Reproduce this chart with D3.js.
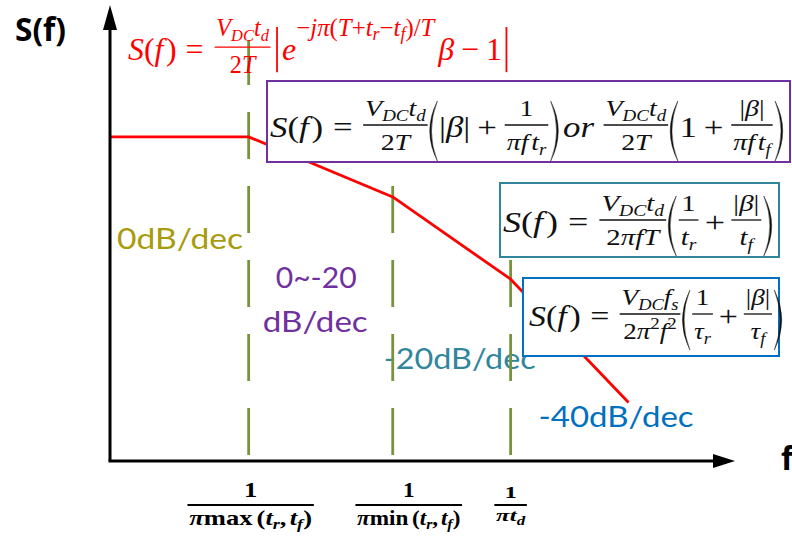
<!DOCTYPE html>
<html>
<head>
<meta charset="utf-8">
<script src="https://cdn.jsdelivr.net/npm/d3@7"></script>
<style>
  body { margin: 0; background: #fff; }
  svg { display: block; }
</style>
</head>
<body>
<svg id="chart" width="792" height="538"></svg>
<script>
// Asymptotic spectrum of the switching waveform: frequency (normalised) vs level (dB)
const freqs  = [1, 15, 250, 2500, 25000];
const levels = [0, 0, -19, -45, -84];
// corner frequencies 1/(pi*max(tr,tf)), 1/(pi*min(tr,tf)), 1/(pi*td)
const cornerFreqs = [15, 250, 2500];
// slope annotations for each region
const slopeLabels = ["0dB/dec", "0~-20", "dB/dec", "-20dB/dec", "-40dB/dec"];

const svg = d3.select("#chart");

const x = d3.scaleLog().domain([1, 2e5]).range([110, 735]);
const y = d3.scaleLinear().domain([-102.5, 41.7]).range([461, 5]);

const MATH = "'Liberation Serif','DejaVu Serif',serif";
const SANS = "Lato,'Open Sans',sans-serif";

// ---------- small math typesetter ----------
const I = (s, o = {}) => ({ s, i: true, ...o });
const R = (s, o = {}) => ({ s, ...o });
const SP = e => ({ sp: e });

function layoutSeq(g, items, x0, base, size, st) {
  let cx = x0;
  for (const it of items) {
    if (it.sp !== undefined) { cx += it.sp * size; continue; }
    if (it.frac) { cx = layoutFrac(g, it, cx, base, size, st); continue; }
    if (it.paren) { cx = drawParen(g, it.paren, cx, base, size, st); continue; }
    if (it.vbar) { cx = drawVbar(g, cx, base, size, st); continue; }
    let fs = size, yy = base;
    const sup = st.supScale || 0.7;
    if (it.sub) { fs = size * 0.68; yy = base + size * 0.2; }
    if (it.sup) { fs = size * sup; yy = base - size * st.supShift; }
    if (it.supsub) { fs = size * sup * 0.72; yy = base - size * st.supShift + size * 0.14; }
    const t = g.append("text")
      .attr("x", cx).attr("y", yy)
      .attr("font-size", fs)
      .attr("font-family", MATH)
      .attr("font-style", it.i ? "italic" : "normal")
      .attr("font-weight", st.bold ? "bold" : "normal")
      .attr("fill", st.color)
      .text(it.s);
    cx += t.node().getComputedTextLength() + (it.k || 0) * fs;
  }
  return cx;
}

function layoutFrac(g, it, x0, base, size, st) {
  const F = size * st.fracScale;
  const ay = base - size * st.axis;
  const gn = g.append("g"), gd = g.append("g");
  const wn = layoutSeq(gn, it.frac[0], 0, ay - F * st.numGap, F, st);
  const wd = layoutSeq(gd, it.frac[1], 0, ay + F * st.denGap, F, st);
  const pad = F * 0.1;
  const w = Math.max(wn, wd) + 2 * pad;
  gn.attr("transform", `translate(${x0 + (w - wn) / 2},0)`);
  gd.attr("transform", `translate(${x0 + (w - wd) / 2},0)`);
  g.append("line")
    .attr("x1", x0 + pad * 0.3).attr("x2", x0 + w - pad * 0.3)
    .attr("y1", ay).attr("y2", ay)
    .attr("stroke", st.color).attr("stroke-width", st.bold ? 1.8 : 1.3);
  return x0 + w;
}

function drawParen(g, ch, x0, base, size, st) {
  const F = size * st.fracScale;
  const ay = base - size * st.axis;
  const top = ay - F * 1.0, bot = ay + F * 1.5, mid = (top + bot) / 2;
  const w = size * 0.3, th = size * 0.05;
  let d;
  if (ch === "(") {
    const xe = x0 + w * 0.85, xm = x0 + w * 0.12;
    d = `M${xe},${top} Q${2 * xm - xe},${mid} ${xe},${bot} Q${2 * (xm + th) - xe},${mid} ${xe},${top}Z`;
  } else {
    const xe = x0 + w * 0.15, xm = x0 + w * 0.88;
    d = `M${xe},${top} Q${2 * xm - xe},${mid} ${xe},${bot} Q${2 * (xm - th) - xe},${mid} ${xe},${top}Z`;
  }
  g.append("path").attr("d", d).attr("fill", st.color)
    .attr("stroke", st.color).attr("stroke-width", 0.4);
  return x0 + w;
}

function drawVbar(g, x0, base, size, st) {
  const ay = base - size * st.axis;
  g.append("line")
    .attr("x1", x0 + size * 0.08).attr("x2", x0 + size * 0.08)
    .attr("y1", ay - size * 0.63).attr("y2", ay + size * 0.78)
    .attr("stroke", st.color).attr("stroke-width", 1.8);
  return x0 + size * 0.16;
}

// lays a formula out, then stretches it horizontally to span [x0, x0 + width]
function formula(parent, items, x0, base, size, width, st) {
  const g = parent.append("g");
  const inner = g.append("g");
  const w = layoutSeq(inner, items, 0, base, size, st);
  g.attr("transform", `translate(${x0},0) scale(${width / w},1)`);
  return g;
}

// ---------- slope annotations ----------
function label(txt, xx, yy, width, color) {
  svg.append("text")
    .attr("x", xx).attr("y", yy)
    .attr("font-family", SANS).attr("font-size", 29)
    .attr("fill", color)
    .attr("textLength", width).attr("lengthAdjust", "spacingAndGlyphs")
    .text(txt);
}
const midCorner12 = (x(cornerFreqs[0]) + x(cornerFreqs[1])) / 2 - 5;
label(slopeLabels[0], x(freqs[0]) + 7, 249, 126, "#a89b0c");
label(slopeLabels[1], midCorner12 - 40, 288, 81, "#7030a0");
label(slopeLabels[2], midCorner12 - 53, 332, 105, "#7030a0");
label(slopeLabels[3], x(cornerFreqs[1]) - 9, 369, 152, "#31859c");
label(slopeLabels[4], x(cornerFreqs[2]) + 28, 427, 155, "#0070c0");

// ---------- corner-frequency guides ----------
const guideTops = [40, 85, 85];
svg.append("g").selectAll("line").data(cornerFreqs).join("line")
  .attr("x1", d => x(d)).attr("x2", d => x(d))
  .attr("y1", 460).attr("y2", (d, i) => guideTops[i])
  .attr("stroke", "#77933c").attr("stroke-width", 2.8)
  .attr("stroke-dasharray", "47 27").attr("stroke-dashoffset", 69);

// ---------- spectrum envelope ----------
const pts = freqs.map((f, i) => [f, levels[i]]);
svg.append("path")
  .datum(pts)
  .attr("d", d3.line().x(d => x(d[0])).y(d => y(d[1])))
  .attr("fill", "none").attr("stroke", "#ff0000").attr("stroke-width", 2.8)
  .attr("stroke-linejoin", "round");

// ---------- formula boxes ----------
const Sf = [I("S"), R("("), I("f", { k: 0.08 }), R(")"), SP(0.28), R("="), SP(0.28)];
const VDCtd = [I("V"), I("DC", { sub: true }), I("t"), I("d", { sub: true })];
const twoT = [R("2"), I("T")];
const absB = [R("|"), I("β"), R("|")];

const boxStyle = { axis: 0.4, fracScale: 0.8, numGap: 0.38, denGap: 1.05, supShift: 0.42 };

const box1Items = [...Sf, { frac: [VDCtd, twoT] }, { paren: "(" }, ...absB, SP(0.2), R("+"), SP(0.2),
  { frac: [[R("1")], [I("π"), I("f"), SP(0.1), I("t"), I("r", { sub: true })]] }, { paren: ")" },
  SP(0.1), I("or"), SP(0.25), { frac: [VDCtd, twoT] }, { paren: "(" }, R("1"), SP(0.2), R("+"), SP(0.2),
  { frac: [absB, [I("π"), I("f"), SP(0.1), I("t"), I("f", { sub: true })]] }, { paren: ")" }];

const box2Items = [...Sf, { frac: [VDCtd, [R("2"), I("πfT")]] }, { paren: "(" },
  { frac: [[R("1")], [I("t"), I("r", { sub: true })]] }, SP(0.15), R("+"), SP(0.15),
  { frac: [absB, [I("t"), I("f", { sub: true })]] }, { paren: ")" }];

const box3Items = [...Sf, { frac: [[I("V"), I("DC", { sub: true }), I("f"), I("s", { sub: true })],
  [R("2"), I("π"), R("2", { sup: true }), I("f"), R("2", { sup: true })]] }, { paren: "(" },
  { frac: [[R("1")], [I("τ"), I("r", { sub: true })]] }, SP(0.15), R("+"), SP(0.15),
  { frac: [absB, [I("τ"), I("f", { sub: true })]] }, { paren: ")" }];

const boxes = [
  { rect: [267, 81, 523, 81], color: "#7030a0", items: box1Items, x0: 270, base: 137, width: 514 },
  { rect: [500, 183, 279, 74], color: "#31859c", items: box2Items, x0: 503, base: 232, width: 270 },
  { rect: [523, 278, 256, 78], color: "#0070c0", items: box3Items, x0: 529, base: 326, width: 254 }
];
boxes.forEach(b => {
  svg.append("rect")
    .attr("x", b.rect[0]).attr("y", b.rect[1]).attr("width", b.rect[2]).attr("height", b.rect[3])
    .attr("fill", "#fff").attr("stroke", b.color).attr("stroke-width", 2);
  formula(svg, b.items, b.x0, b.base, 30, b.width, { ...boxStyle, color: "#111" });
});

// ---------- general expression (red) ----------
const redItems = [...Sf, SP(0.05), { frac: [VDCtd, twoT] }, SP(0.1), { vbar: 1 }, SP(0.08), I("e"),
  R("−", { sup: true }), I("jπ", { sup: true }), R("(", { sup: true }), I("T", { sup: true }),
  R("+", { sup: true }), I("t", { sup: true }), I("r", { supsub: true }), R("−", { sup: true }),
  I("t", { sup: true }), I("f", { supsub: true }), R(")/", { sup: true }), I("T", { sup: true }),
  SP(0.12), I("β"), SP(0.22), R("−"), SP(0.22), R("1"), SP(0.06), { vbar: 1 }];
formula(svg, redItems, 128, 60, 32, 381,
  { color: "#ff0000", axis: 0.4, fracScale: 0.76, numGap: 0.45, denGap: 1.08, supShift: 0.75, supScale: 0.78 });

// ---------- axes ----------
const ax = svg.append("g");
ax.append("line").attr("x1", x(1)).attr("x2", x(1)).attr("y1", y(-102.5)).attr("y2", 28)
  .attr("stroke", "#000").attr("stroke-width", 3);
ax.append("path")
  .attr("d", `M${x(1)},${y(41.7)} L${x(1) - 7},30 L${x(1) + 7},30Z`).attr("fill", "#000");
ax.append("line").attr("x1", x(1) - 1.5).attr("x2", 715).attr("y1", y(-102.5)).attr("y2", y(-102.5))
  .attr("stroke", "#000").attr("stroke-width", 3);
ax.append("path")
  .attr("d", `M${x(2e5)},${y(-102.5)} L713,${y(-102.5) - 7} L713,${y(-102.5) + 7}Z`).attr("fill", "#000");

svg.append("text").attr("x", 15).attr("y", 41)
  .attr("font-family", "'Open Sans',sans-serif").attr("font-weight", "bold").attr("font-size", 32)
  .attr("textLength", 51).attr("lengthAdjust", "spacingAndGlyphs")
  .text("S(f)");
svg.append("text").attr("x", 781).attr("y", 470)
  .attr("font-family", "'Open Sans',sans-serif").attr("font-weight", "bold").attr("font-size", 32)
  .text("f");

// ---------- corner-frequency tick labels ----------
const tickItems = [
  [{ frac: [[R("1")], [I("π"), R("max"), SP(0.15), R("("), I("t"), I("r", { sub: true }), R(","), SP(0.12), I("t"), I("f", { sub: true }), R(")")]] }],
  [{ frac: [[R("1")], [I("π"), R("min"), SP(0.15), R("("), I("t"), I("r", { sub: true }), R(","), SP(0.12), I("t"), I("f", { sub: true }), R(")")]] }],
  [{ frac: [[R("1")], [I("π"), I("t"), I("d", { sub: true })]] }]
];
const tickWidths = [128, 108, 34];
const tickSizes = [21, 21, 17];
const tickNudge = [2, 16, 0];
const tickStyle = { color: "#000", bold: true, axis: 0.33, fracScale: 1, numGap: 0.4, denGap: 0.95, supShift: 0.4 };
cornerFreqs.forEach((f, i) => {
  const cx = x(f) + tickNudge[i];
  formula(svg, tickItems[i], cx - tickWidths[i] / 2, 505 + tickSizes[i] * 0.33, tickSizes[i], tickWidths[i], tickStyle);
});
</script>
</body>
</html>
